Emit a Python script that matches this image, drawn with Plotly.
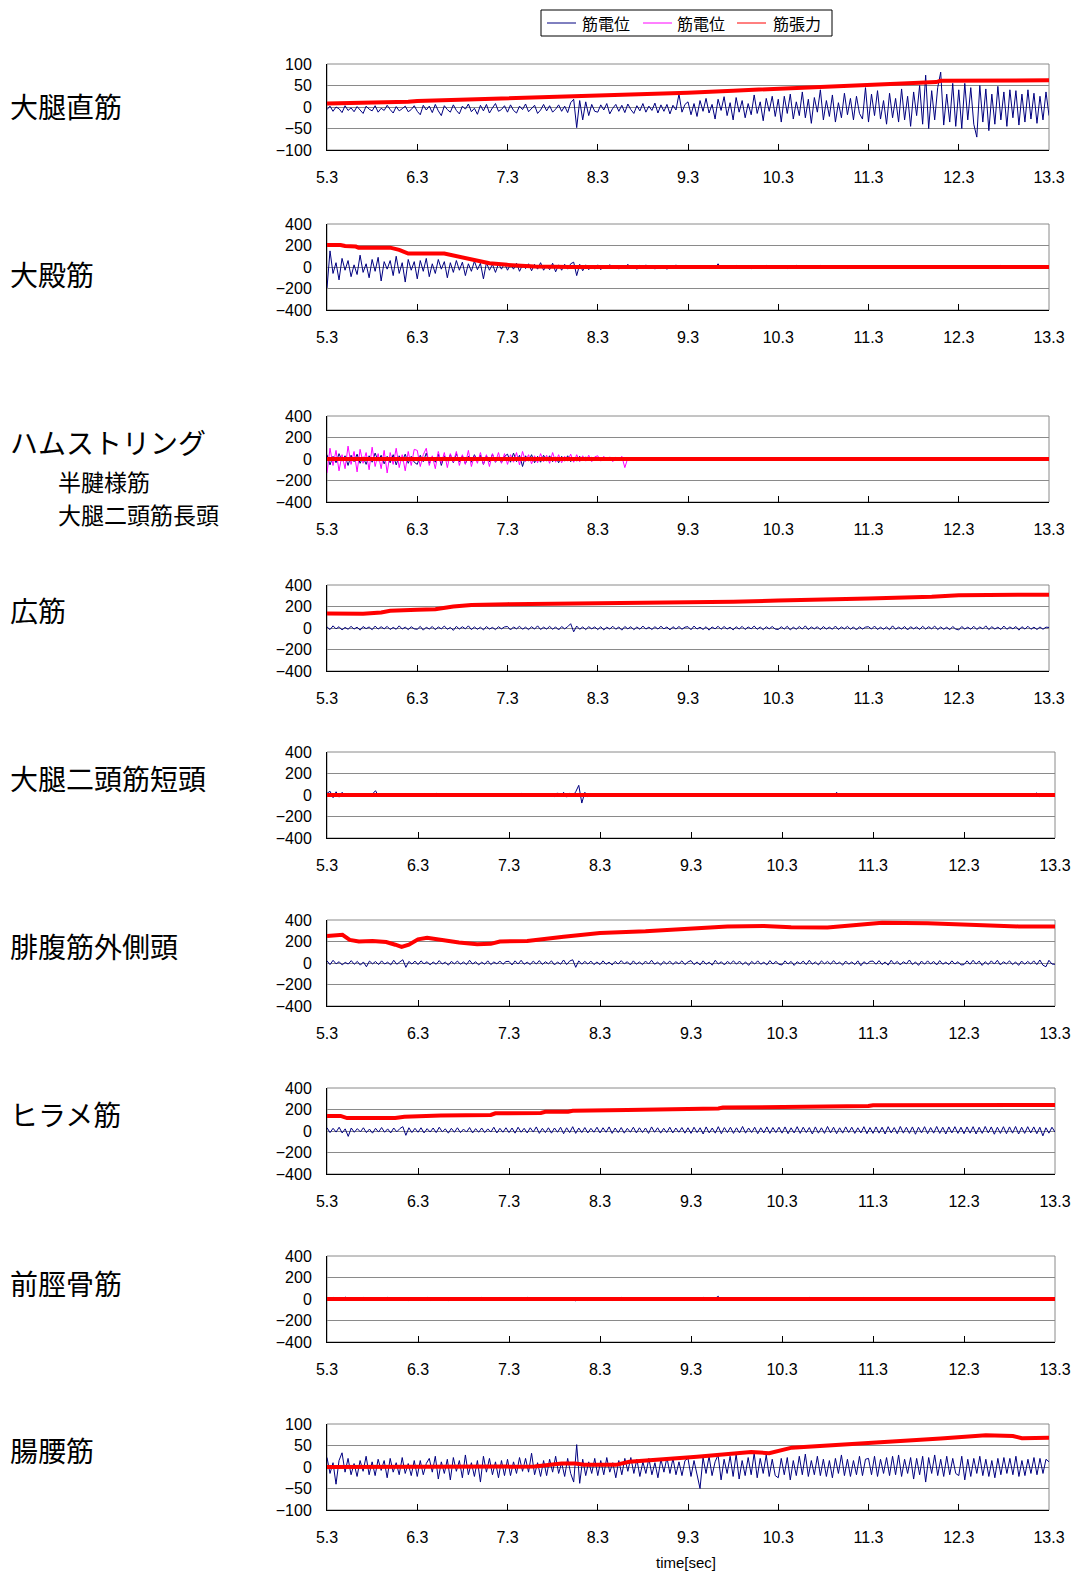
import numpy as np
import plotly.graph_objects as go

# ---------------- data ----------------
x_ticks = [5.3, 6.3, 7.3, 8.3, 9.3, 10.3, 11.3, 12.3, 13.3]
x_ticktext = ["5.3", "6.3", "7.3", "8.3", "9.3", "10.3", "11.3", "12.3", "13.3"]
t = np.round(np.linspace(5.3, 13.3, 241), 4)  # sampling times of the EMG traces (1/30 s)

panel_names = ["大腿直筋", "大殿筋", "ハムストリング", "広筋", "大腿二頭筋短頭",
               "腓腹筋外側頭", "ヒラメ筋", "前脛骨筋", "腸腰筋"]
sub_names = ["半腱様筋", "大腿二頭筋長頭"]
legend_names = ["筋電位", "筋電位", "筋張力"]
y_limits = [100, 400, 400, 400, 400, 400, 400, 400, 100]

b1 = [-6, 2, -10, 0, -4, -13, 3, -8, -2, -11, 1, -7, -15, 2, -5, -9, 3, -12, -3, -8, 4, -6, -14, 1, -9, -4, 2, -11, -6, 3,
      -10, -18, 4, -7, 2, -13, 6, -9, -20, 3, -6, -12, 5, -8, -16, 2, -5, 7, -11, -3, -17, 4, -9, 6, -14, -2, 8, -10, -6, 3,
      -12, 5, -8, -14, 2, -6, 7, -11, -4, 4, -15, -7, 6, -9, 3, -12, -5, 5, -10, 2, -13, 10, 18, -48, 15, -30, 12, -20, 6, -10,
      -12, 5, -7, 8, -16, -3, 6, -10, 4, -13, 7, -6, -15, 3, -9, 8, -12, 2, -8, 9, -14, 5, -10, 6, -16, 4, -7, 30, -12, 6,
      12, -18, 8, -22, 15, -10, 20, -14, 6, -28, 18, -8, 24, -20, 10, -30, 22, -12, 15, -25, 8, -18, 28, -15, 12, -32, 20, -10, 25, -22,
      18, -35, 25, -15, 30, -28, 12, -20, 35, -25, 18, -38, 22, -12, 40, -30, 15, -22, 28, -35, 10, -25, 32, -18, 20, -30, 25, -15, -28, 45,
      -35, 30, -20, 38, -28, 15, -40, 32, -25, 20, -35, 42, -30, 25, -45, 35, -20, 50, -40, 74, -50, 38, -30, 45, 81, -42, 30, -35, 55, -45,
      40, -50, 55, -30, 45, -40, -70, 50, -35, 42, -55, 30, -40, 48, -30, 35, -45, 40, -25, 38, -42, 30, -35, 40, -28, 32, -38, 25, -30, 35,
      -20]
b2 = [-195, 150, -60, 40, -120, 80, -30, 60, -90, 20, -70, 110, -50, 30, -100, 70, -40, 90, -130, 50, -20, 60, -80, 100, -60, 40, -140, 70, -30, 50,
      -110, 60, -40, 80, -90, 30, -60, 70, -20, 50, -100, 40, -50, 60, -30, 45, -80, 30, -40, 55, -25, 35, -110, 40, -30, 25, -50, 30, -20, 35,
      -30, 25, -20, 35, -40, 20, -15, 30, -35, 25, -20, 40, -30, 15, -25, 35, -45, 20, -30, 25, -20, 30, 45, -80, 25, -35, 20, -25, 15, -20,
      20, -25, 15, -18, 22, -12, 18, -20, 10, -15, 25, -18, 12, -22, 15, -10, 20, -16, 12, -20, 18, -12, 15, -22, 10, -15, 20, -12, 18, -14,
      12, -15, 10, -12, 14, -8, 10, -15, 8, -12, 30, -14, 10, -12, 8, -10, 14, -12, 10, -8, 12, -15, 10, -10, 8, -12, 14, -10, 8, -12,
      10, -12, 8, -14, 12, -10, 15, -12, 8, -10, 12, -8, 10, -12, 14, -10, 8, -12, 10, -8, 12, -10, 8, -14, 10, -12, 8, -10, 12, -8,
      10, -8, 12, -10, 8, -12, 10, -8, 9, -10, 12, -8, 10, -9, 8, -12, 10, -8, 9, -10, 8, -12, 10, -8, 9, -10, 12, -8, 10, -9,
      8, -10, 9, -8, 12, -10, 8, -9, 10, -8, 9, -12, 10, -8, 14, -9, 8, -10, 9, -8, 10, -12, 8, -9, 10, -8, 9, -10, 8, -9,
      8]
b3 = [40, -55, 25, -35, 50, -20, 30, -60, 35, -25, 45, -40, 20, -50, 30, -30, 55, -20, 35, -45, 25, -35, 40, -55, 30, -20, 45, -40, 25, -30,
      -50, 35, -25, 55, -40, 20, -30, 45, -60, 30, -20, 40, -35, 50, -25, 30, -45, 25, -30, 40, -20, 35, -50, 30, -25, 45, -30, 20, -35, 25,
      45, -30, 55, -25, 35, -70, 30, -20, 40, -35, 25, -30, 35, -20, 30, -25, 20, -35, 25, -20, 30, -25, 15, -20, 25, -15, 20, -10, 15, -12,
      10, -8, 6, -5, 4, -3, 3, -2, 2, -3, 2, -2, 3, -2, 2, -3, 2, -2, 3, -2, 2, -3, 2, -2, 3, -2, 2, -3, 2, -2,
      2, -3, 2, -2, 3, -2, 2, -3, 2, -2, 3, -2, 2, -3, 2, -2, 3, -2, 2, -3, 2, -2, 3, -2, 2, -3, 2, -2, 3, -2,
      2, -2, 3, -2, 2, -3, 2, -2, 3, -2, 2, -3, 2, -2, 3, -2, 2, -3, 2, -2, 3, -2, 2, -3, 2, -2, 3, -2, 2, -3,
      2, -3, 2, -2, 3, -2, 2, -3, 2, -2, 3, -2, 2, -3, 2, -2, 3, -2, 2, -3, 2, -2, 3, -2, 2, -3, 2, -2, 3, -2,
      2, -2, 3, -2, 2, -3, 2, -2, 3, -2, 2, -3, 2, -2, 3, -2, 2, -3, 2, -2, 3, -2, 2, -3, 2, -2, 3, -2, 2, -3,
      2]
m3 = [-130, 100, -60, 80, -110, 40, -90, 120, -50, 70, -120, 90, -40, 60, -100, 110, -70, 50, -90, 80, -130, 60, -50, 100, -80, 40, -110, 70, -60, 90,
      80, -70, 40, 100, -60, 30, -90, 70, -40, 60, -80, 50, -30, 70, -60, 40, -50, 80, -70, 30, -40, 60, -50, 40, -70, 50, -30, 60, -40, 50,
      -50, 40, -30, 60, -55, 70, -25, 40, -45, 30, -35, 50, -25, 35, -40, 60, -30, 40, -35, 25, -20, 45, -30, 40, -25, 30, -20, 35, -25, 20,
      30, -20, 25, -15, 20, -25, 15, -10, 25, -80, 10, -5, 0]
b4 = [10, -15, 20, -8, 12, -18, 6, -12, 15, -10, 8, -20, 14, -6, 10, -16, 18, -10, 12, -8, 15, -14, 6, -12, 20, -10, 8, -15, 12, -8,
      -12, 15, -20, 8, -10, 14, -16, 10, -8, 18, -12, 6, -22, 15, -10, 12, -8, 20, -15, 10, -12, 8, -18, 14, -10, 6, -15, 12, -8, 10,
      14, -18, 10, -8, 16, -12, 8, -15, 12, -10, 20, -14, 8, -10, 15, -12, 10, -18, 14, -8, 12, 40, -35, 18, -12, 10, -15, 12, -8, 10,
      -15, 12, -18, 8, -10, 16, -12, 10, -20, 14, -8, 12, -16, 10, -12, 18, -10, 8, -14, 12, -10, 16, -8, 10, -18, 12, -10, 14, -12, 8,
      12, -16, 18, -10, 8, -14, 12, -20, 10, -8, 16, -12, 14, -10, 8, -18, 12, -10, 15, -14, 10, -8, 18, -12, 10, -16, 12, -8, 14, -10,
      -14, 12, -10, 16, -18, 8, -12, 14, -10, 20, -15, 10, -8, 12, -16, 14, -10, 8, -12, 18, -14, 10, -8, 15, -12, 10, -18, 12, -10, 8,
      12, -10, 18, -14, 8, -12, 10, -16, 20, -12, 8, -10, 14, -18, 12, -8, 10, -14, 16, -10, 12, -8, 18, -15, 10, -12, 8, -16, 14, -10,
      -18, 14, -10, 8, -12, 16, -14, 10, -8, 20, -15, 12, -10, 8, -14, 18, -12, 10, -8, 14, -20, 12, -10, 16, -12, 8, -14, 10, -12, 8,
      5]
b5 = [15, 35, -25, 30, -20, 25, -15, 12, -10, 8, -12, 10, -8, 12, -6, 10, 40, -12, 8, -10, 12, -8, 10, -6, 8, -10, 12, -8, 6, -10,
      8, -10, 12, -6, 10, -8, 15, -12, 8, -10, 6, -8, 12, -10, 8, -6, 10, -12, 8, -10, 12, -8, 6, -10, 8, -12, 10, -6, 8, -10,
      12, -8, 10, -6, 15, -10, 8, -12, 10, -8, 6, -10, 12, -8, 10, -15, 20, -12, 25, -20, 15, -10, 30, 90, -75, 25, -15, 12, -10, 8,
      12, -8, 10, -10, 8, -12, 10, -6, 12, -10, 8, -8, 10, -12, 6, -10, 8, -8, 12, -10, 8, -6, 10, -12, 8, -10, 6, -8, 10, -10,
      -8, 10, -12, 8, -6, 10, -10, 8, -12, 10, -8, 6, -10, 12, -8, 10, -6, 8, -12, 10, -8, 10, -10, 6, -8, 12, -10, 8, -6, 10,
      12, -8, 10, -10, 8, -12, 6, -8, 10, -10, 12, -8, 8, -6, 10, -12, 8, -10, 25, -8, 10, -6, 12, -10, 8, -8, 10, -12, 6, -10,
      -10, 12, -8, 10, -6, 8, -12, 10, -8, 6, -10, 12, -8, 10, -10, 8, -6, 12, -10, 8, -8, 10, -12, 6, -10, 8, -8, 12, -6, 10,
      10, -12, 8, -6, 10, -10, 12, -8, 6, -10, 8, -12, 10, -8, 6, -10, 12, -8, 10, -6, 8, -10, 12, -8, 20, -15, 10, -8, 6, -10,
      -5]
b6 = [20, -15, 25, -8, 12, -18, 6, -10, 22, -12, 15, -20, 10, -35, 18, -8, 14, -15, 20, -10, 8, -18, 25, -12, 10, 30, -40, 15, -10, 18,
      -15, 20, -8, 12, -18, 10, -12, 22, -10, 8, -20, 15, -8, 18, -12, 10, -15, 25, -10, 12, -18, 8, -12, 20, -15, 10, -8, 18, -12, 14,
      15, -18, 20, -10, 25, -12, 8, -15, 18, -10, 22, -14, 12, -8, 20, -18, 10, -12, 28, -15, 18, 30, -40, 20, -12, 15, -10, 18, -15, 10,
      -15, 20, -12, 8, -18, 15, -10, 22, -8, 12, -18, 20, -12, 10, -15, 18, -10, 25, -12, 8, -20, 15, -10, 18, -14, 12, -8, 20, -15, 10,
      22, -15, 10, -18, 20, -12, 8, -20, 25, -10, 12, -18, 15, -8, 20, -12, 18, -15, 10, -22, 15, -10, 20, -12, 8, -18, 22, -10, 15, -12,
      -18, 20, -10, 15, -22, 12, -8, 18, -15, 25, -12, 10, -18, 20, -8, 15, -12, 22, -10, 8, -20, 18, -12, 10, -15, 20, -25, 12, -10, 15,
      18, -12, 22, -15, 10, -20, 25, -10, 15, -18, 12, -8, 28, -15, 10, -22, 18, -12, 20, -10, 15, -18, 22, -12, 8, -15, 20, -10, 12, -18,
      -15, 20, -12, 25, -10, 18, -22, 12, -15, 20, -10, 25, -18, 12, -8, 20, -15, 10, -22, 18, -12, 15, -10, 20, -15, 28, -20, -35, 25, -10,
      -12]
b7 = [30, -15, 25, -10, 35, -18, 20, -50, 28, -12, 22, -8, 30, -15, 18, -20, 25, -10, 32, -12, 20, -18, 28, -8, 22, 40, -40, 30, -15, 25,
      -12, 30, -18, 22, -10, 28, -15, 35, -8, 20, -20, 25, -12, 30, -15, 18, -10, 32, -18, 22, -12, 28, -15, 20, -10, 35, -18, 25, -12, 30,
      -15, 28, -20, 35, -12, 25, -18, 30, -10, 38, -22, 25, -15, 30, -20, 28, -12, 35, -25, 30, -15, 40, -22, 28, -15, 32, -18, 25, -12, 35,
      -18, 30, -12, 38, -22, 28, -15, 32, -20, 25, -12, 35, -18, 30, -15, 28, -22, 38, -12, 30, -20, 25, -15, 35, -18, 28, -12, 32, -20, 30,
      -22, 35, -15, 30, -28, 38, -18, 28, -20, 40, -25, 32, -15, 35, -22, 30, -18, 42, -20, 28, -15, 35, -25, 30, -18, 38, -22, 32, -15, 35,
      -20, 38, -25, 30, -18, 40, -22, 35, -15, 32, -28, 38, -20, 30, -22, 42, -18, 35, -25, 30, -20, 38, -15, 35, -22, 30, -18, 40, -25, 32,
      -22, 38, -20, 35, -28, 40, -18, 32, -25, 42, -20, 35, -22, 38, -30, 35, -18, 40, -25, 32, -20, 42, -22, 35, -28, 38, -18, 40, -22, 35,
      -25, 38, -20, 40, -28, 35, -22, 42, -18, 38, -30, 35, -22, 40, -25, 38, -20, 42, -28, 35, -22, 40, -18, 38, -25, 35, -45, 30, -20, 35,
      -10]
b8 = [10, -12, 15, -8, 12, -10, 18, -6, 10, -12, 8, -10, 14, -8, 10, -6, 12, -10, 8, -12, 15, -8, 10, -6, 12, -10, 8, -14, 10, -8,
      -10, 12, -8, 15, -12, 10, -8, 12, -10, 8, -14, 10, -8, 12, -10, 6, -8, 10, -12, 8, -10, 14, -8, 10, -12, 6, -10, 12, -8, 10,
      8, -12, 10, -8, 12, -10, 15, -8, 10, -12, 8, -10, 12, -8, 10, -6, 12, -10, 8, -12, 10, -8, -18, 12, -10, 8, -12, 10, -8, 6,
      -10, 12, -8, 10, -12, 8, -10, 14, -8, 10, -12, 8, -10, 12, -8, 10, -6, 12, -10, 8, -12, 10, -8, 12, -10, 6, -8, 10, -12, 8,
      10, -12, 8, -10, 15, -8, 12, -10, 8, 25, -12, 10, -8, 12, -10, 8, -12, 10, -6, 12, -10, 8, -12, 10, -8, 12, -10, 6, -8, 10,
      -12, 10, -8, 12, -10, 8, -12, 10, -8, 14, -10, 8, -12, 10, -8, 12, -6, 10, -12, 8, -10, 12, -8, 10, -12, 8, -10, 12, -8, 10,
      12, -10, 8, -12, 10, -8, 12, -10, 8, -10, 12, -8, 10, -12, 8, -6, 10, -12, 8, -10, 12, -8, 10, -12, 8, -10, 12, -8, 10, -12,
      -10, 12, -8, 10, -12, 8, -10, 12, -8, 10, -12, 8, -10, 12, -8, 10, -6, 12, -10, 8, -12, 10, -8, 12, -10, 8, -12, 10, -8, 12,
      8]
b9 = [22, -15, 10, -40, 15, 33, -12, 20, -18, 8, -22, 15, -10, 25, -18, 12, -20, 18, -8, 15, -25, 20, -12, 10, -18, 22, -15, 8, -20, 15,
      -22, 15, -18, 8, 20, -12, 25, -28, 12, -15, 18, -30, 22, -10, 15, -25, 28, -18, 10, -22, 15, -35, 25, -12, 20, -18, 12, -25, 15, -20,
      18, -20, 12, -15, 22, -10, 20, -12, 32, -18, 10, -22, 15, -20, 18, -12, 25, -15, 10, -22, 20, -15, -35, 52, -38, 18, -20, 12, -15, 20,
      -20, 15, -18, 22, -12, 10, -25, 15, -18, 20, -10, 22, -15, 18, -22, 12, -15, 20, -18, 10, -25, 18, -12, 22, -15, 20, -18, 12, -20, 15,
      20, -22, 15, -18, -50, 22, -15, 25, -20, 12, 28, -30, 18, -15, 25, -22, 30, -28, 15, -20, 22, -18, 32, -25, 20, -15, 28, -22, 18, -20,
      -25, 20, -18, 22, -30, 15, -20, 25, -18, 30, -22, 15, -18, 25, -20, 18, -22, 15, -25, 20, -15, 28, -20, 18, -22, 15, -18, 25, -20, 18,
      20, -18, 25, -22, 18, -15, 22, -20, 25, -18, 28, -22, 18, -15, 22, -28, 20, -18, 25, -35, 22, -15, 28, -20, 18, -22, 25, -18, 20, -15,
      -20, 25, -30, 18, -22, 20, -15, 25, -20, 18, -22, 15, -25, 20, -18, 22, -15, 20, -18, 25, -22, 15, -20, 18, -15, 22, -18, 20, -15, 18,
      12]

r1_t = [5.3, 5.8, 6.2, 6.3, 6.8, 7.3, 7.8, 8.3, 8.8, 9.3, 9.8, 10.3, 10.8, 11.3, 11.8, 12.05, 12.1, 13.3]
r1_v = [8, 9, 12, 14, 17, 20, 22, 25, 28, 33, 38, 43, 48, 53, 56, 58, 61, 62]
r2_t = [5.3, 5.45, 5.5, 5.62, 5.65, 6.0, 6.1, 6.2, 6.6, 6.75, 6.95, 7.1, 7.3, 7.6, 8.0, 13.3]
r2_v = [205, 205, 195, 190, 178, 180, 160, 125, 125, 100, 60, 35, 20, 5, 0, 0]
r3_t = [5.3, 13.3]
r3_v = [0, 0]
r4_t = [5.3, 5.5, 5.7, 5.9, 6.0, 6.3, 6.5, 6.7, 6.9, 7.3, 8.0, 8.3, 9.3, 9.8, 10.3, 11.0, 11.3, 12.0, 12.3, 13.3]
r4_v = [135, 138, 132, 145, 160, 170, 175, 200, 215, 222, 228, 225, 235, 245, 255, 265, 275, 290, 305, 310]
r5_t = [5.3, 13.3]
r5_v = [0, 0]
r6_t = [5.3, 5.4, 5.47, 5.55, 5.65, 5.8, 5.95, 6.05, 6.12, 6.2, 6.3, 6.4, 6.55, 6.75, 6.95, 7.1, 7.2,
        7.5, 7.9, 8.3, 8.8, 9.3, 9.7, 10.1, 10.4, 10.8, 11.2, 11.4, 11.9, 12.4, 12.9, 13.3]
r6_v = [250, 262, 262, 215, 200, 205, 195, 170, 150, 170, 220, 235, 215, 190, 175, 178, 200,
        205, 245, 280, 295, 320, 340, 345, 332, 330, 355, 375, 370, 355, 340, 340]
r7_t = [5.3, 5.45, 5.52, 6.05, 6.15, 6.4, 6.55, 7.1, 7.15, 7.65, 7.7, 7.95, 8.0, 8.6, 9.2, 9.25,
        9.6, 9.65, 10.9, 10.95, 11.25, 11.3, 12.15, 12.2, 12.25, 13.3]
r7_v = [140, 140, 120, 120, 132, 140, 145, 150, 165, 168, 178, 180, 188, 195, 200, 208,
        210, 218, 222, 230, 232, 240, 242, 248, 243, 243]
r8_t = [5.3, 13.3]
r8_v = [0, 0]
r9_t = [5.3, 7.6, 7.9, 8.05, 8.15, 8.5, 8.65, 9.0, 9.4, 10.0, 10.2, 10.45, 11.3, 12.1, 12.6, 12.9, 13.0, 13.3]
r9_v = [0, 1, 8, 8, 5, 5, 12, 17, 24, 35, 32, 45, 55, 66, 74, 72, 67, 68]

blue_series = [b1, b2, b3, b4, b5, b6, b7, b8, b9]
red_series = [(r1_t, r1_v), (r2_t, r2_v), (r3_t, r3_v), (r4_t, r4_v), (r5_t, r5_v),
              (r6_t, r6_v), (r7_t, r7_v), (r8_t, r8_v), (r9_t, r9_v)]

# ---------------- layout geometry (page pixels) ----------------
FW, FH = 1074, 1573


def px(x):
    return x / FW


def py(y):
    return 1 - y / FH


tops = [64, 224, 416, 585, 752, 920, 1088, 1256, 1424]
ph = 86
lefts = [327] * 9
rights = [1049, 1049, 1049, 1049, 1055, 1055, 1055, 1055, 1049]
label_y = [106, 274, 442, 610, 778, 946, 1114, 1283, 1450]

NAVY, MAG, RED = "#000080", "#FF00FF", "#FF0000"
GRID = "#8a8a8a"
num_font = dict(family="Liberation Sans, Arial, sans-serif", size=16, color="black")
jp = "Noto Sans CJK JP"

fig = go.Figure()
layout = dict(width=FW, height=FH, margin=dict(l=0, r=0, t=0, b=0, pad=0, autoexpand=False),
              paper_bgcolor="white", plot_bgcolor="white", showlegend=False)
shapes, annotations = [], []

for i in range(9):
    n = i + 1
    xa = "x" if n == 1 else f"x{n}"
    ya = "y" if n == 1 else f"y{n}"
    lim = y_limits[i]
    step = lim // 2
    fig.add_trace(go.Scatter(x=t, y=blue_series[i], mode="lines", xaxis=xa, yaxis=ya, name="筋電位",
                             line=dict(color=NAVY, width=1), hoverinfo="skip"))
    if i == 2:
        fig.add_trace(go.Scatter(x=t[:len(m3)], y=m3, mode="lines", xaxis=xa, yaxis=ya, name="筋電位",
                                 line=dict(color=MAG, width=1), hoverinfo="skip"))
    rt, rv = red_series[i]
    fig.add_trace(go.Scatter(x=rt, y=rv, mode="lines", xaxis=xa, yaxis=ya, name="筋張力",
                             line=dict(color=RED, width=4), hoverinfo="skip"))

    xd = [px(lefts[i]), px(rights[i])]
    yd = [py(tops[i] + ph), py(tops[i])]
    layout[f"xaxis{'' if n == 1 else n}"] = dict(
        domain=xd, anchor=ya, range=[5.3, 13.3], tickvals=x_ticks, ticktext=x_ticktext,
        ticks="inside", ticklen=6, tickcolor="black", tickwidth=1,
        showline=True, linecolor="black", linewidth=1, showgrid=False, zeroline=False,
        tickfont=num_font, ticklabelstandoff=13, fixedrange=True, automargin=False)
    layout[f"yaxis{'' if n == 1 else n}"] = dict(
        domain=yd, anchor=xa, range=[-lim, lim],
        tickvals=[-lim, -step, 0, step, lim],
        showgrid=True, gridcolor=GRID, gridwidth=1, zeroline=False,
        showline=True, linecolor="black", linewidth=1, ticks="",
        tickfont=num_font, ticklabelstandoff=11, fixedrange=True, automargin=False)
    shapes.append(dict(type="rect", xref=f"{xa} domain", yref=f"{ya} domain",
                       x0=0, x1=1, y0=0, y1=1, line=dict(color=GRID, width=1), layer="below"))
    annotations.append(dict(text=panel_names[i], xref="paper", yref="paper",
                            x=px(8), y=py(label_y[i]), xanchor="left", yanchor="middle",
                            showarrow=False, font=dict(family=jp, size=28, color="black")))

annotations.append(dict(text=sub_names[0], xref="paper", yref="paper", x=px(56), y=py(481),
                        xanchor="left", yanchor="middle", showarrow=False,
                        font=dict(family=jp, size=23, color="black")))
annotations.append(dict(text=sub_names[1], xref="paper", yref="paper", x=px(56), y=py(514),
                        xanchor="left", yanchor="middle", showarrow=False,
                        font=dict(family=jp, size=23, color="black")))
annotations.append(dict(text="time[sec]", xref="paper", yref="paper", x=px(686), y=py(1562),
                        xanchor="center", yanchor="middle", showarrow=False,
                        font=dict(family="Liberation Sans, Arial, sans-serif", size=15, color="black")))

# ---------------- legend box (drawn as a framed key at the top) ----------------
shapes.append(dict(type="rect", xref="paper", yref="paper", x0=px(541), x1=px(832),
                   y0=py(36), y1=py(10), line=dict(color="black", width=1),
                   fillcolor="white", layer="above"))
key_line_x = [547, 643, 737]
key_text_x = [580, 675, 771]
for col, lx, tx, name in zip([NAVY, MAG, RED], key_line_x, key_text_x, legend_names):
    shapes.append(dict(type="line", xref="paper", yref="paper", x0=px(lx), x1=px(lx + 29),
                       y0=py(23), y1=py(23), line=dict(color=col, width=1), layer="above"))
    annotations.append(dict(text=name, xref="paper", yref="paper", x=px(tx), y=py(23),
                            xanchor="left", yanchor="middle", showarrow=False,
                            font=dict(family=jp, size=16, color="black")))

layout["shapes"] = shapes
layout["annotations"] = annotations
fig.update_layout(**layout)

# page without body margin / scrollbars so the figure fills the window exactly
fig.write_html("out.html", config={"displayModeBar": False},
               post_script="document.body.style.margin='0';document.body.style.overflow='hidden';")
